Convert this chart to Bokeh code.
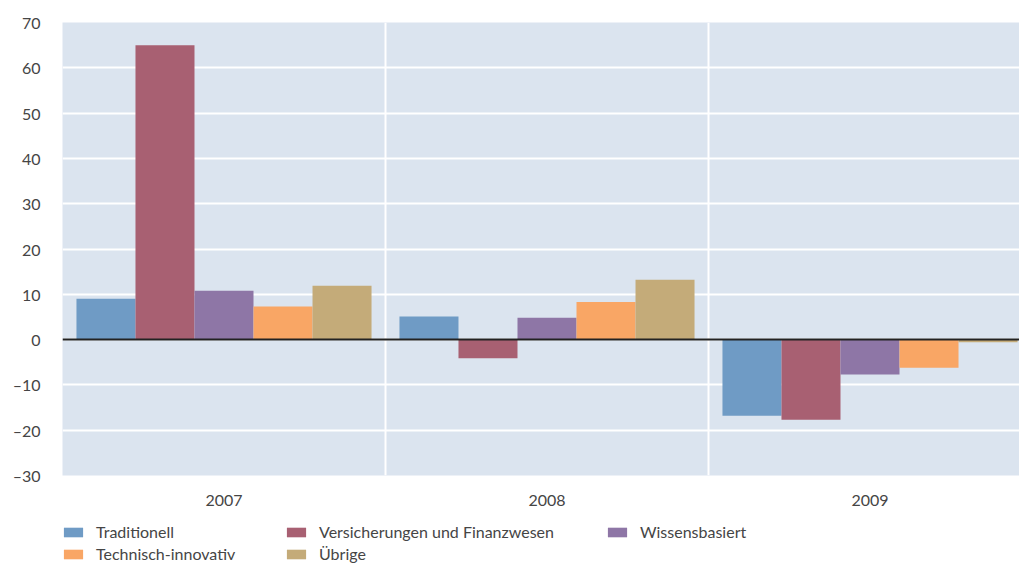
from bokeh.plotting import figure
from bokeh.layouts import column
from bokeh.models import (ColumnDataSource, Range1d, FixedTicker, Span, Legend, LegendItem)
from bokeh.transform import dodge
from bokeh.embed import file_html
from bokeh.resources import INLINE

years = ["2007", "2008", "2009"]
series = ["Traditionell", "Versicherungen und Finanzwesen", "Wissensbasiert",
          "Technisch-innovativ", "Übrige"]
traditionell = [9.0, 5.1, -16.8]
versicherungen = [65.0, -4.1, -17.7]
wissensbasiert = [10.8, 4.8, -7.7]
technisch = [7.3, 8.3, -6.2]
uebrige = [11.9, 13.2, -0.6]
colors = ["#6f9bc5", "#a86072", "#8e76a6", "#f9a665", "#c4ab79"]
y_ticks = [-30, -20, -10, 0, 10, 20, 30, 40, 50, 60, 70]

FONT = "Lato"
TXT = "#454545"

src = ColumnDataSource(dict(
    x=list(range(len(years))),
    s0=traditionell, s1=versicherungen, s2=wissensbasiert, s3=technisch, s4=uebrige,
))

cat_px = 323.0
frame_px = 957.0
p = figure(width=1019, height=512, output_backend="svg", toolbar_location=None,
           x_range=Range1d(-0.5, -0.5 + frame_px / cat_px), y_range=Range1d(-30, 70))
p.min_border_left = 62
p.min_border_right = 0
p.min_border_top = 22
p.min_border_bottom = 37
p.outline_line_color = None
p.background_fill_color = "#dbe4ef"
p.border_fill_color = "white"

bw = 0.1827
offsets = [-2 * bw, -bw, 0, bw, 2 * bw]
for i, col in enumerate(colors):
    p.vbar(x=dodge("x", offsets[i]), top="s%d" % i, bottom=0, width=bw,
           source=src, fill_color=col, line_color=None)

p.add_layout(Span(location=0, dimension="width", line_color="#222222", line_width=2))

p.xaxis.ticker = FixedTicker(ticks=[0, 1, 2])
p.xaxis.major_label_overrides = {i: y for i, y in enumerate(years)}
p.yaxis.ticker = FixedTicker(ticks=y_ticks)
p.yaxis.major_label_overrides = {t: (str(t) if t >= 0 else "\u2013" + str(-t)) for t in y_ticks}
for ax in (p.xaxis[0], p.yaxis[0]):
    ax.axis_line_color = None
    ax.major_tick_line_color = None
    ax.minor_tick_line_color = None
    ax.major_label_text_font = FONT
    ax.major_label_text_font_size = "16px"
    ax.major_label_text_color = TXT
p.xaxis.major_label_standoff = 13
p.yaxis.major_label_standoff = 16

p.xgrid.ticker = FixedTicker(ticks=[0.5, 1.5])
p.xgrid.grid_line_color = "white"
p.xgrid.grid_line_width = 2
p.ygrid.ticker = FixedTicker(ticks=y_ticks)
p.ygrid.grid_line_color = "white"
p.ygrid.grid_line_width = 2

# legend strip below the chart (its frame is aligned with the chart's frame)
lf = figure(width=1019, height=51, output_backend="svg", toolbar_location=None,
            x_range=Range1d(0, 1), y_range=Range1d(0, 1))
lf.axis.visible = False
lf.grid.visible = False
lf.outline_line_color = None
lf.min_border = 0
lf.background_fill_color = "white"
lf.border_fill_color = "white"
swatches = [lf.vbar(x=[0], top=[0], bottom=[0], width=0, fill_color=c, line_color=None)
            for c in colors]

def make_legend(idx, loc):
    lg = Legend(items=[LegendItem(label=series[i], renderers=[swatches[i]]) for i in idx],
                location=loc, orientation="vertical")
    lg.background_fill_alpha = 0
    lg.border_line_color = None
    lg.padding = 0
    lg.margin = 0
    lg.spacing = 3
    lg.glyph_width = 24
    lg.glyph_height = 12
    lg.label_standoff = 11
    lg.label_text_font = FONT
    lg.label_text_font_size = "16px"
    lg.label_text_color = TXT
    lg.label_height = 12
    lf.add_layout(lg, "center")

make_legend([0, 3], (-1, 0))
make_legend([1, 4], (222, 0))
make_legend([2], (543, 22))

layout = column(p, lf, spacing=0)
open("out.html", "w").write(file_html(layout, INLINE))
